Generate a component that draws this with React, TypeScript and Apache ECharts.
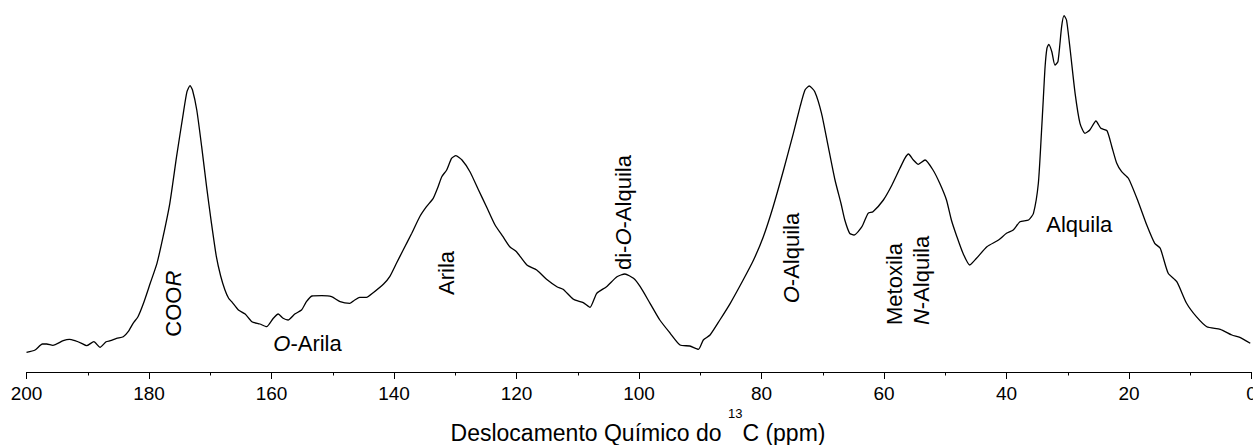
import React, { useEffect, useRef } from "react";
import * as echarts from "echarts";

const shiftPpm = [
  200.0, 198.6, 197.4, 196.7, 195.7, 194.0, 193.0, 192.1, 191.0, 190.2, 189.0, 188.0, 187.0, 186.3, 185.3,
  184.2, 183.4, 182.6, 181.8, 180.9, 179.8, 178.7, 177.7, 176.6, 175.5, 174.4, 173.8, 173.3, 172.9, 172.2,
  171.4, 170.6, 169.8, 169.0, 168.3, 167.6, 167.0, 166.5, 165.4, 164.3, 163.2, 161.9, 160.8, 159.7, 158.9,
  158.1, 157.3, 156.2, 155.1, 154.3, 153.4, 151.8, 150.2, 148.8, 147.2, 146.4, 145.6, 144.5, 143.4, 141.7,
  140.7, 139.6, 138.5, 137.1, 135.8, 134.7, 133.6, 132.8, 132.2, 131.4, 130.6, 129.9, 128.9, 127.6, 126.2,
  124.9, 123.5, 122.2, 121.1, 120.0, 118.3, 116.7, 115.1, 113.4, 112.4, 110.7, 109.1, 108.0, 106.9, 105.3,
  103.6, 102.3, 100.9, 99.8, 98.2, 96.6, 94.9, 93.3, 91.7, 90.3, 89.5, 88.4, 86.8, 85.1, 83.0,
  81.3, 79.7, 78.1, 76.4, 74.8, 73.7, 72.9, 72.2, 71.3, 70.2, 69.1, 68.0, 67.0, 66.4, 65.6,
  64.9, 63.6, 62.6, 61.8, 60.1, 58.7, 57.4, 56.6, 56.0, 55.2, 54.4, 53.3, 52.0, 50.9, 49.8,
  49.0, 48.1, 47.1, 46.0, 44.9, 43.2, 41.3, 40.0, 38.9, 37.8, 36.4, 35.6, 34.8, 34.3, 34.0,
  33.7, 33.4, 33.1, 32.6, 32.1, 31.6, 31.0, 30.6, 30.2, 29.6, 28.8, 28.0, 27.2, 26.4, 25.4,
  24.6, 23.6, 22.8, 22.0, 21.2, 20.1, 18.5, 17.1, 15.8, 14.9, 13.6, 12.2, 10.6, 9.0, 7.3,
  5.1, 3.2, 1.9, 0.2,
];

const intensity = [
  19.7, 22.0, 28.0, 28.0, 26.7, 31.3, 32.7, 31.3, 28.7, 26.3, 30.3, 24.7, 30.3, 31.3, 33.7,
  35.3, 40.3, 48.7, 55.3, 68.7, 88.7, 108.7, 135.3, 168.7, 215.3, 258.7, 280.3, 286.3, 282.0, 262.0,
  225.3, 185.3, 148.7, 115.3, 96.0, 82.0, 73.7, 70.3, 62.0, 58.0, 50.3, 48.0, 45.3, 53.7, 58.0,
  53.7, 52.0, 58.0, 62.0, 70.3, 76.0, 76.3, 75.3, 70.3, 68.7, 72.0, 74.7, 74.7, 79.3, 88.0,
  95.3, 108.7, 122.0, 138.7, 155.3, 165.3, 173.7, 185.3, 195.3, 202.0, 213.7, 216.3, 212.0, 200.3, 182.0,
  165.3, 147.0, 135.3, 125.3, 120.3, 107.0, 102.0, 92.7, 85.3, 82.7, 72.7, 69.3, 64.7, 78.7, 85.3,
  95.3, 98.0, 93.7, 85.3, 68.7, 52.0, 38.7, 27.0, 26.0, 22.7, 32.0, 37.0, 52.0, 68.7, 92.0,
  112.0, 135.3, 165.3, 202.0, 238.7, 265.3, 282.0, 286.0, 280.3, 258.7, 225.3, 192.0, 168.0, 152.0, 138.7,
  137.0, 145.3, 158.7, 160.3, 172.0, 187.0, 203.7, 213.7, 218.0, 212.0, 207.7, 212.0, 202.0, 188.7, 172.0,
  152.0, 135.3, 118.7, 107.0, 113.7, 125.3, 132.0, 138.7, 142.0, 150.3, 152.0, 158.7, 188.7, 238.7, 272.0,
  305.3, 323.7, 327.7, 320.3, 307.0, 310.3, 345.3, 356.3, 352.0, 322.0, 278.7, 248.7, 238.7, 242.0, 251.0,
  243.7, 241.3, 225.3, 208.7, 200.3, 193.7, 170.3, 147.0, 128.7, 123.7, 98.7, 90.3, 68.7, 55.3, 45.3,
  42.7, 37.0, 34.7, 28.7,
];

const xTicks = { min: 0, max: 200, interval: 20 };
const axisTitle = ["Deslocamento Químico do ", "13", "C (ppm)"];

const FONT = "Arial, 'Liberation Sans', Helvetica, sans-serif";
const LBL = 22;

const rich = {
  n: { fontSize: LBL, fontFamily: FONT, color: "#000" },
  i: { fontSize: LBL, fontFamily: FONT, color: "#000", fontStyle: "italic" },
};

function rotLabel(text: string, x: number, y: number) {
  return {
    type: "text",
    x,
    y,
    rotation: Math.PI / 2,
    style: { text, rich, align: "left", verticalAlign: "middle", fontSize: LBL, fontFamily: FONT, fill: "#000" },
  };
}

function hLabel(text: string, x: number, y: number) {
  return {
    type: "text",
    x,
    y,
    style: { text, rich, align: "center", verticalAlign: "middle", fontSize: LBL, fontFamily: FONT, fill: "#000" },
  };
}

export default function App() {
  const ref = useRef<HTMLDivElement>(null);
  useEffect(() => {
    if (!ref.current) return;
    const chart = echarts.init(ref.current, undefined, { renderer: "svg" });
    const data = shiftPpm.map((p, k) => [p, intensity[k]]);
    chart.setOption({
      animation: false,
      backgroundColor: "#fff",
      grid: { left: 26.5, right: 1.5, top: 0, bottom: 73, containLabel: false, outerBoundsMode: "none" },
      xAxis: {
        type: "value",
        inverse: true,
        min: xTicks.min,
        max: xTicks.max,
        interval: xTicks.interval,
        axisLine: { show: true, onZero: false, lineStyle: { color: "#000", width: 1 } },
        axisTick: { show: true, length: 7, lineStyle: { color: "#000", width: 1 } },
        minorTick: { show: true, splitNumber: 2, length: 3.5, lineStyle: { color: "#000", width: 1 } },
        splitLine: { show: false },
        minorSplitLine: { show: false },
        axisLabel: { fontSize: 19, fontFamily: FONT, color: "#000", margin: 12, showMinLabel: true, showMaxLabel: true },
      },
      yAxis: { type: "value", min: 0, max: 372, show: false },
      series: [
        {
          type: "line",
          data,
          showSymbol: false,
          smooth: 0.2,
          lineStyle: { color: "#000", width: 1.3 },
          silent: true,
        },
      ],
      graphic: [
        rotLabel("{n|COO}{i|R}", 173.3, 336.7),
        hLabel("{i|O}{n|-Arila}", 307.5, 343.3),
        rotLabel("{n|Arila}", 446.5, 295),
        rotLabel("{n|di-}{i|O}{n|-Alquila}", 623, 270),
        rotLabel("{i|O}{n|-Alquila}", 791, 303.3),
        rotLabel("{n|Metoxila}", 894, 325),
        rotLabel("{i|N}{n|-Alquila}", 921, 325),
        hLabel("{n|Alquila}", 1079.3, 224.7),
        {
          type: "text",
          x: 638,
          y: 432.5,
          style: {
            text: `{a|${axisTitle[0]}}{s|${axisTitle[1]}}{a|${axisTitle[2]}}`,
            align: "center",
            verticalAlign: "middle",
            fontSize: 23,
            fontFamily: FONT,
            fill: "#000",
            rich: {
              a: { fontSize: 23, fontFamily: FONT, color: "#000", lineHeight: 51 },
              s: { fontSize: 13, fontFamily: FONT, color: "#000", lineHeight: 13, verticalAlign: "top" },
            },
          },
        },
      ],
    });
    return () => chart.dispose();
  }, []);
  return (
    <div
      ref={ref}
      style={{ position: "fixed", left: 0, top: 0, width: 1253, height: 445, background: "#fff" }}
    />
  );
}
